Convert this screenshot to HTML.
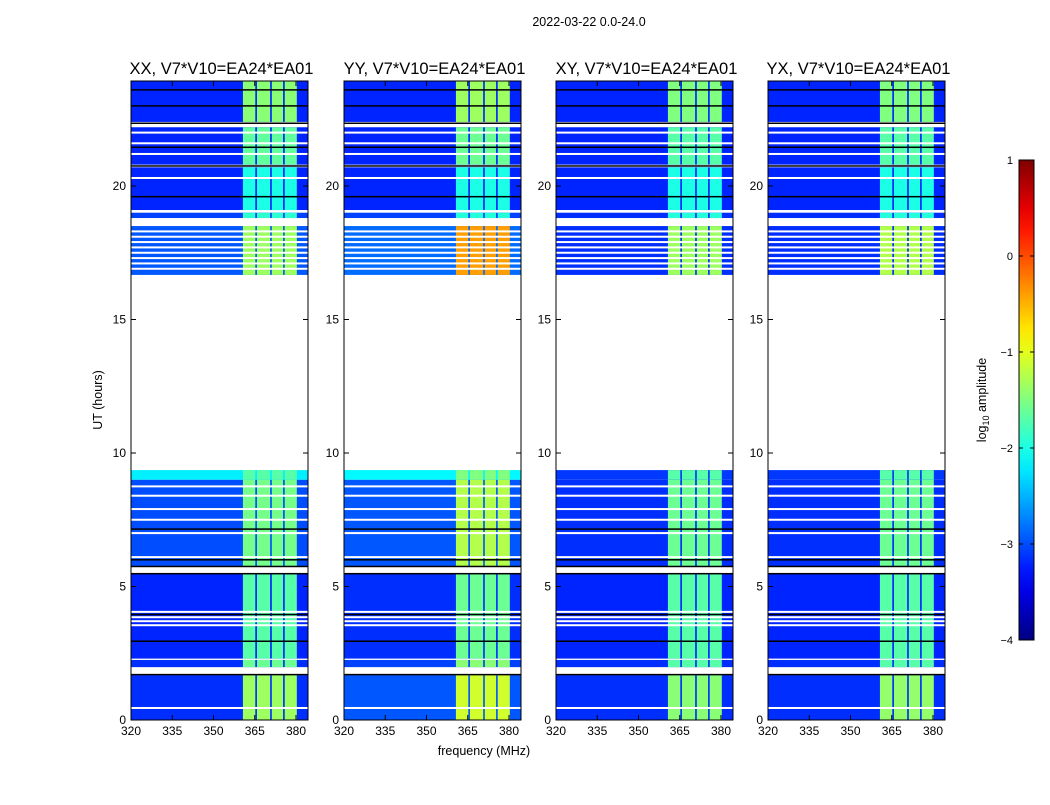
<!DOCTYPE html>
<html><head><meta charset="utf-8">
<style>
body{margin:0;background:#fff;}
svg text{font-family:"Liberation Sans",sans-serif;}
</style></head>
<body>
<svg id="fig" width="1050" height="800" viewBox="0 0 1050 800" xmlns="http://www.w3.org/2000/svg">
<rect width="1050" height="800" fill="#fff"/>
<text x="589" y="26" font-size="12.5" text-anchor="middle">2022-03-22 0.0-24.0</text>
<text x="484" y="755" font-size="12.5" text-anchor="middle">frequency (MHz)</text>
<text x="102" y="400" font-size="12.5" text-anchor="middle" transform="rotate(-90 102 400)">UT (hours)</text>
<g id="panels"></g>
<g id="cbar"></g>
<text x="986" y="400" font-size="12.5" text-anchor="middle" transform="rotate(-90 986 400)">log<tspan font-size="9" dy="3">10</tspan><tspan dy="-3"> amplitude</tspan></text>
</svg>
<script>
const panelTitles = ["XX, V7*V10=EA24*EA01","YY, V7*V10=EA24*EA01","XY, V7*V10=EA24*EA01","YX, V7*V10=EA24*EA01"];
const xTicks = [320,335,350,365,380];
const yTicks = [0,5,10,15,20];
const cbarTicks = [1,0,-1,-2,-3,-4];
// data time segments [start, end] in UT hours
const segStart = [0, 1.98, 2.3, 5.73, 9.0, 16.67, 18.8, 19.1, 20.8, 22.4];
const segEnd   = [1.68, 2.25, 5.5, 9.0, 9.36, 18.5, 19.0, 20.7, 22.2, 24.0];
// frequency bands [MHz]
const bandStart = [360.7, 365.8, 371.2, 375.9];
const bandEnd   = [365.2, 370.6, 375.3, 380.3];
// background log10 amplitude per panel per segment
const bgValues = [
 [-3.15,-3.15,-3.2,-3.0,-2.2,-2.95,-3.05,-3.2,-3.2,-3.2],
 [-2.95,-3.05,-3.15,-2.95,-2.15,-2.85,-3.05,-3.2,-3.2,-3.2],
 [-3.15,-3.15,-3.2,-3.15,-3.1,-3.15,-3.15,-3.2,-3.2,-3.2],
 [-3.15,-3.15,-3.2,-3.15,-3.1,-3.15,-3.15,-3.2,-3.2,-3.2]
];
// band amplitude per panel per segment
const bandValues = [
 [-1.35,-1.6,-1.7,-1.55,-1.7,-1.35,-1.9,-2.0,-1.65,-1.45],
 [-1.1,-1.45,-1.6,-1.25,-1.5,-0.4,-1.95,-2.0,-1.6,-1.35],
 [-1.45,-1.7,-1.7,-1.6,-1.7,-1.35,-1.95,-2.0,-1.7,-1.5],
 [-1.4,-1.7,-1.7,-1.6,-1.7,-1.25,-1.95,-2.0,-1.7,-1.5]
];
const whiteLines = [0.45,3.55,3.7,3.85,4.05,6.1,7.0,7.5,7.9,8.4,8.75,16.9,17.1,17.3,17.5,17.7,17.9,18.1,18.3,20.3,21.2,21.6,22.0];
const blackLines = [1.7,2.95,3.95,5.48,5.75,6.0,7.15,19.6,20.75,21.45,22.35,23.0,23.6];

const panelX = [131,344,556,768], pw = 177, plotTop = 81, plotBot = 720;
function X(f,i){return panelX[i] + (f-320)*2.75;}
function Y(h){return 720 - h*26.7;}
function jet(v){
  let t=(v+4)/5; t=Math.max(0,Math.min(1,t));
  const r=Math.max(0,Math.min(1,1.5-Math.abs(4*t-3)));
  const g=Math.max(0,Math.min(1,1.5-Math.abs(4*t-2)));
  const b=Math.max(0,Math.min(1,1.5-Math.abs(4*t-1)));
  return `rgb(${Math.round(r*255)},${Math.round(g*255)},${Math.round(b*255)})`;
}
const NS="http://www.w3.org/2000/svg";
function mk(tag,attrs,parent){const e=document.createElementNS(NS,tag);for(const k in attrs)e.setAttribute(k,attrs[k]);parent.appendChild(e);return e;}
const panels=document.getElementById('panels');
for(let i=0;i<4;i++){
  const g=mk('g',{},panels);
  
  
  const cp=mk('clipPath',{id:'cp'+i},g);
  mk('rect',{x:panelX[i],y:plotTop,width:pw,height:plotBot-plotTop},cp);
  const d=mk('g',{'clip-path':`url(#cp${i})`},g);
  for(let s=0;s<segStart.length;s++){
    const y1=Y(segEnd[s]), y2=Y(segStart[s]);
    const r=mk('rect',{x:panelX[i],y:y1,width:pw,height:y2-y1,fill:jet(bgValues[i][s])},d);
    
    
    for(let b=0;b<bandStart.length;b++){
      const x1=X(bandStart[b],i), x2=X(bandEnd[b],i);
      const br=mk('rect',{x:x1,y:y1,width:x2-x1,height:y2-y1,fill:jet(bandValues[i][s])},d);
      
      
    }
  }
  for(const h of whiteLines){ if(h>9.4&&h<16.6) continue; mk('rect',{x:panelX[i],y:Y(h)-1,width:pw,height:2,fill:'#fff'},d); }
  for(const h of blackLines){ mk('rect',{x:panelX[i],y:Y(h)-0.75,width:pw,height:1.5,fill:'#000'},d); }
  const frame=mk('rect',{x:panelX[i],y:plotTop,width:pw,height:plotBot-plotTop,fill:'none',stroke:'#000','stroke-width':1},g);
  
  
  const t=mk('text',{x:panelX[i]+pw/2+2,y:74,'font-size':16.5,'text-anchor':'middle'},g);
  t.textContent=panelTitles[i];
  
  
  for(const v of xTicks){
    const x=X(v,i);
    mk('line',{x1:x,x2:x,y1:plotBot,y2:plotBot-5,stroke:'#000'},g);
    mk('line',{x1:x,x2:x,y1:plotTop,y2:plotTop+5,stroke:'#000'},g);
    const tl=mk('text',{x:x,y:plotBot+15,'font-size':12,'text-anchor':'middle'},g);
    tl.textContent=v;
    
    
  }
  for(const v of yTicks){
    const y=Y(v);
    mk('line',{x1:panelX[i],x2:panelX[i]+5,y1:y,y2:y,stroke:'#000'},g);
    mk('line',{x1:panelX[i]+pw,x2:panelX[i]+pw-5,y1:y,y2:y,stroke:'#000'},g);
    const tl=mk('text',{x:panelX[i]-5,y:y+4,'font-size':12,'text-anchor':'end'},g);
    tl.textContent=v;
    
    
  }
}
const cb=document.getElementById('cbar');
const defs=mk('defs',{},cb);
const lg=mk('linearGradient',{id:'jetg',x1:0,y1:1,x2:0,y2:0},defs);
for(let k=0;k<=20;k++){ mk('stop',{offset:k/20,'stop-color':jet(-4+5*k/20)},lg); }
function CY(v){return 640-(v+4)*96;}
mk('rect',{x:1019,y:160,width:15,height:480,fill:'url(#jetg)',stroke:'#000','stroke-width':1},cb);
for(const v of cbarTicks){
  const y=CY(v);
  mk('line',{x1:1019,x2:1023,y1:y,y2:y,stroke:'#000'},cb);
  mk('line',{x1:1034,x2:1030,y1:y,y2:y,stroke:'#000'},cb);
  const tl=mk('text',{x:1013,y:y+4,'font-size':11,'text-anchor':'end'},cb);
  tl.textContent=v<0?'\u2212'+(-v):v;
  
  
}
</script>
</body></html>
